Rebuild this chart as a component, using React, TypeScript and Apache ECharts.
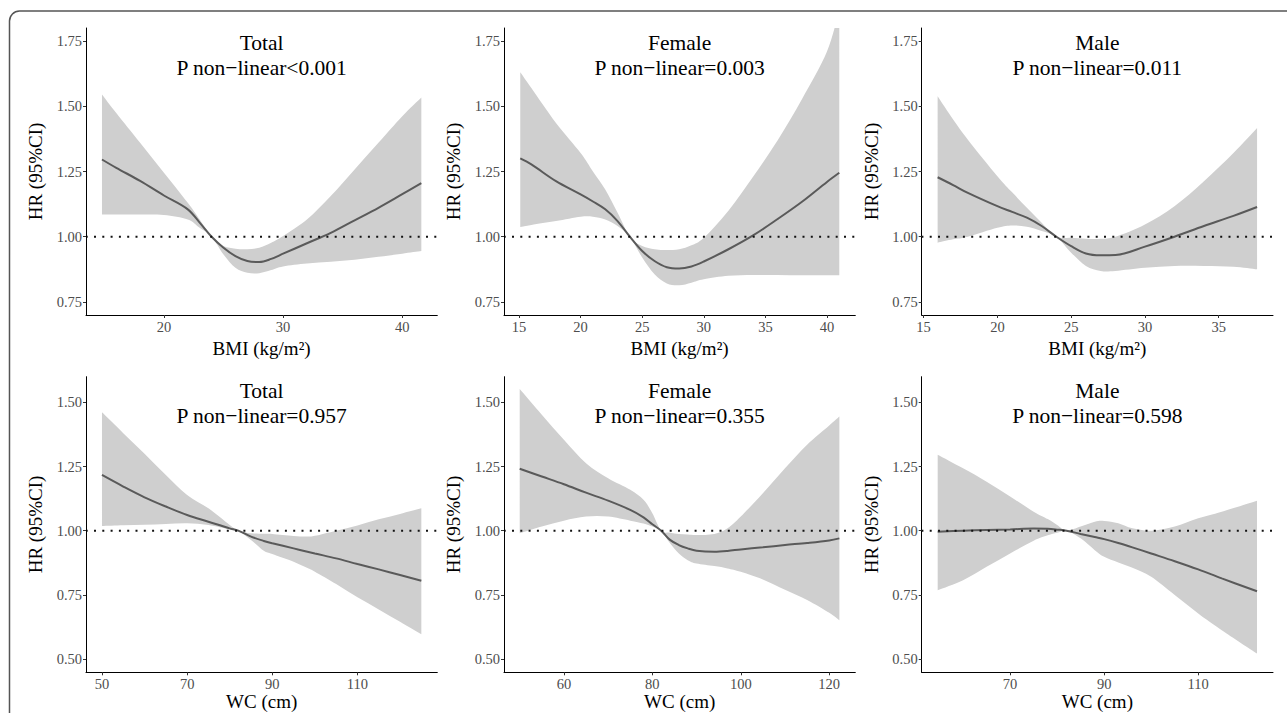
import React, { useEffect, useRef } from "react";
import * as echarts from "echarts";

const FONT = "Liberation Serif, Times New Roman, serif";

// ---- BMI, Total ----
const bmiTotalX = [14.8, 16, 18, 20, 22, 23, 24, 25, 26, 27, 28, 29, 30, 32, 34, 36, 38, 40, 41.6];
const bmiTotalHR = [1.296, 1.264, 1.214, 1.158, 1.105, 1.054, 1.0, 0.958, 0.926, 0.907, 0.903, 0.915, 0.935, 0.975, 1.015, 1.063, 1.111, 1.163, 1.205];
const bmiTotalLower = [1.085, 1.085, 1.085, 1.083, 1.066, 1.034, 1.0, 0.932, 0.881, 0.862, 0.86, 0.872, 0.886, 0.897, 0.904, 0.912, 0.923, 0.935, 0.945];
const bmiTotalUpper = [1.545, 1.474, 1.36, 1.245, 1.13, 1.066, 1.0, 0.964, 0.954, 0.952, 0.958, 0.977, 1.003, 1.066, 1.156, 1.258, 1.36, 1.462, 1.534];

// ---- BMI, Female ----
const bmiFemaleX = [15.1, 16, 18, 20, 21, 22, 23, 24, 25, 26, 27, 28, 29, 30, 32, 34, 36, 38, 40, 41];
const bmiFemaleHR = [1.3, 1.277, 1.213, 1.162, 1.135, 1.105, 1.06, 1.0, 0.945, 0.907, 0.883, 0.878, 0.886, 0.905, 0.952, 1.005, 1.068, 1.135, 1.21, 1.245];
const bmiFemaleLower = [1.037, 1.045, 1.06, 1.077, 1.077, 1.066, 1.041, 1.0, 0.92, 0.856, 0.821, 0.814, 0.824, 0.837, 0.85, 0.853, 0.853, 0.852, 0.852, 0.852];
const bmiFemaleUpper = [1.63, 1.57, 1.436, 1.321, 1.25, 1.181, 1.092, 1.0, 0.964, 0.952, 0.949, 0.952, 0.967, 0.996, 1.1, 1.23, 1.37, 1.53, 1.71, 1.87];

// ---- BMI, Male ----
const bmiMaleX = [15.95, 17, 18, 20, 21, 22, 23, 24, 25, 26, 27, 28, 30, 32, 34, 36, 37.6];
const bmiMaleHR = [1.228, 1.198, 1.168, 1.117, 1.095, 1.073, 1.041, 1.0, 0.964, 0.936, 0.929, 0.93, 0.962, 1.0, 1.041, 1.08, 1.114];
const bmiMaleLower = [0.977, 0.99, 1.0, 1.034, 1.043, 1.038, 1.022, 1.0, 0.939, 0.888, 0.869, 0.869, 0.881, 0.888, 0.888, 0.885, 0.875];
const bmiMaleUpper = [1.538, 1.449, 1.372, 1.232, 1.17, 1.111, 1.054, 1.0, 0.996, 0.992, 0.992, 1.0, 1.047, 1.117, 1.213, 1.321, 1.417];

// ---- WC, Total ----
const wcTotalX = [50, 55, 60, 65, 70, 75, 80, 82, 85, 88, 90, 95, 98, 100, 105, 110, 115, 120, 125];
const wcTotalHR = [1.217, 1.172, 1.13, 1.094, 1.061, 1.035, 1.009, 1.0, 0.977, 0.96, 0.951, 0.931, 0.919, 0.911, 0.892, 0.87, 0.849, 0.827, 0.805];
const wcTotalLower = [1.018, 1.021, 1.023, 1.026, 1.029, 1.022, 1.005, 1.0, 0.964, 0.922, 0.909, 0.879, 0.856, 0.84, 0.792, 0.74, 0.693, 0.645, 0.596];
const wcTotalUpper = [1.461, 1.38, 1.3, 1.217, 1.139, 1.087, 1.022, 1.0, 0.99, 0.988, 0.987, 0.979, 0.977, 0.98, 1.0, 1.02, 1.044, 1.065, 1.087];

// ---- WC, Female ----
const wcFemaleX = [50, 55, 60, 65, 70, 75, 78, 80, 82, 84, 86, 88, 90, 94, 97, 100, 105, 110, 115, 120, 122.3];
const wcFemaleHR = [1.241, 1.211, 1.181, 1.148, 1.117, 1.081, 1.052, 1.025, 1.0, 0.964, 0.944, 0.931, 0.922, 0.918, 0.921, 0.927, 0.935, 0.944, 0.952, 0.962, 0.97];
const wcFemaleLower = [0.99, 1.016, 1.039, 1.055, 1.055, 1.039, 1.028, 1.016, 1.0, 0.951, 0.911, 0.885, 0.872, 0.862, 0.853, 0.84, 0.81, 0.77, 0.73, 0.68, 0.651];
const wcFemaleUpper = [1.552, 1.452, 1.354, 1.263, 1.204, 1.159, 1.12, 1.068, 1.0, 0.992, 0.987, 0.985, 0.983, 0.987, 1.009, 1.055, 1.146, 1.243, 1.335, 1.41, 1.445];

// ---- WC, Male ----
const wcMaleX = [54.6, 60, 65, 70, 75, 78, 80, 82, 85, 88, 90, 93, 96, 100, 105, 110, 115, 122.5];
const wcMaleHR = [0.996, 1.0, 1.003, 1.005, 1.008, 1.007, 1.004, 1.0, 0.987, 0.975, 0.967, 0.952, 0.935, 0.911, 0.881, 0.849, 0.814, 0.764];
const wcMaleLower = [0.768, 0.807, 0.859, 0.911, 0.961, 0.982, 0.992, 1.0, 0.97, 0.924, 0.898, 0.876, 0.855, 0.82, 0.749, 0.677, 0.612, 0.521];
const wcMaleUpper = [1.296, 1.243, 1.191, 1.133, 1.074, 1.045, 1.022, 1.0, 1.016, 1.035, 1.038, 1.029, 1.009, 1.0, 1.016, 1.048, 1.074, 1.117];

// ---- titles / axes ----
const groupTitles = ["Total", "Female", "Male", "Total", "Female", "Male"];
const pTexts = [
  "P non\u2212linear<0.001",
  "P non\u2212linear=0.003",
  "P non\u2212linear=0.011",
  "P non\u2212linear=0.957",
  "P non\u2212linear=0.355",
  "P non\u2212linear=0.598",
];
const xNames = ["BMI (kg/m\u00B2)", "BMI (kg/m\u00B2)", "BMI (kg/m\u00B2)", "WC (cm)", "WC (cm)", "WC (cm)"];
const yName = "HR (95%CI)";
const refValue = 1;

const xTicks = [
  [20, 30, 40],
  [15, 20, 25, 30, 35, 40],
  [15, 20, 25, 30, 35],
  [50, 70, 90, 110],
  [60, 80, 100, 120],
  [70, 90, 110],
];
const xRanges = [
  [13.46, 42.94],
  [13.78, 42.3],
  [14.87, 38.68],
  [46.25, 128.75],
  [46.45, 125.9],
  [51.2, 125.9],
];
const yTicksTop = [0.75, 1.0, 1.25, 1.5, 1.75];
const yTicksBottom = [0.5, 0.75, 1.0, 1.25, 1.5];
const yRangeTop = [0.7, 1.8];
const yRangeBottom = [0.448, 1.6];

const panelData = [
  { x: bmiTotalX, hr: bmiTotalHR, lo: bmiTotalLower, up: bmiTotalUpper },
  { x: bmiFemaleX, hr: bmiFemaleHR, lo: bmiFemaleLower, up: bmiFemaleUpper },
  { x: bmiMaleX, hr: bmiMaleHR, lo: bmiMaleLower, up: bmiMaleUpper },
  { x: wcTotalX, hr: wcTotalHR, lo: wcTotalLower, up: wcTotalUpper },
  { x: wcFemaleX, hr: wcFemaleHR, lo: wcFemaleLower, up: wcFemaleUpper },
  { x: wcMaleX, hr: wcMaleHR, lo: wcMaleLower, up: wcMaleUpper },
];

// layout (pixels)
const colLeft = [86, 504, 921.7];
const colWidth = 351.3;
const rowTop = [28, 376.7];
const rowHeight = [287, 295.6];
const titleY = [
  [42.7, 68.3],
  [391, 416],
];

// Catmull-Rom spline through pixel points -> SVG cubic segments
function splineSegments(pts: number[][]): string {
  let d = "";
  const n = pts.length;
  for (let i = 0; i < n - 1; i++) {
    const p0 = pts[i - 1] || pts[i];
    const p1 = pts[i];
    const p2 = pts[i + 1];
    const p3 = pts[i + 2] || pts[i + 1];
    const c1x = p1[0] + (p2[0] - p0[0]) / 6;
    const c1y = p1[1] + (p2[1] - p0[1]) / 6;
    const c2x = p2[0] - (p3[0] - p1[0]) / 6;
    const c2y = p2[1] - (p3[1] - p1[1]) / 6;
    d += ` C${c1x.toFixed(2)},${c1y.toFixed(2)} ${c2x.toFixed(2)},${c2y.toFixed(2)} ${p2[0].toFixed(2)},${p2[1].toFixed(2)}`;
  }
  return d;
}

function buildOption() {
  const grid: any[] = [];
  const xAxis: any[] = [];
  const yAxis: any[] = [];
  const series: any[] = [];
  const graphic: any[] = [];

  graphic.push({
    type: "rect",
    silent: true,
    shape: { x: 9.5, y: 11, width: 1320, height: 760, r: 10 },
    style: { fill: "none", stroke: "#555", lineWidth: 1.5 },
    z: 0,
  });

  panelData.forEach((p, i) => {
    const row = i < 3 ? 0 : 1;
    const col = i % 3;
    const left = colLeft[col];
    const top = rowTop[row];
    grid.push({ left, top, width: colWidth, height: rowHeight[row], containLabel: false });

    const yTicks = row === 0 ? yTicksTop : yTicksBottom;
    const yRange = row === 0 ? yRangeTop : yRangeBottom;

    xAxis.push({
      type: "value",
      gridIndex: i,
      min: xRanges[i][0],
      max: xRanges[i][1],
      z: 10,
      axisLine: { show: true, onZero: false, lineStyle: { color: "#000", width: 1 } },
      axisTick: { show: true, length: 3, lineStyle: { color: "#333", width: 1 }, customValues: xTicks[i] },
      axisLabel: {
        customValues: xTicks[i],
        color: "#4d4d4d",
        fontSize: 14.5,
        fontFamily: FONT,
        margin: 4,
      },
      splitLine: { show: false },
      name: xNames[i],
      nameLocation: "middle",
      nameGap: row === 0 ? 24 : 20,
      nameTextStyle: { fontSize: 19, color: "#000", fontFamily: FONT, verticalAlign: "top" },
    });

    yAxis.push({
      type: "value",
      gridIndex: i,
      min: yRange[0],
      max: yRange[1],
      z: 10,
      axisLine: { show: true, onZero: false, lineStyle: { color: "#000", width: 1 } },
      axisTick: { show: true, length: 3, lineStyle: { color: "#333", width: 1 }, customValues: yTicks },
      axisLabel: {
        customValues: yTicks,
        color: "#4d4d4d",
        fontSize: 14.5,
        fontFamily: FONT,
        margin: 4,
        formatter: (v: number) => v.toFixed(2),
      },
      splitLine: { show: false },
      name: yName,
      nameLocation: "middle",
      nameGap: 41,
      nameTextStyle: { fontSize: 19, color: "#000", fontFamily: FONT },
    });

    // confidence band: polygon between upper and lower bounds, through the axes' scales
    series.push({
      type: "custom",
      name: `band${i}`,
      xAxisIndex: i,
      yAxisIndex: i,
      coordinateSystem: "cartesian2d",
      clip: true,
      silent: true,
      z: 1,
      data: [[p.x[0], refValue]],
      renderItem: (_params: any, api: any) => {
        const upPts = p.x.map((v, j) => api.coord([v, p.up[j]]));
        const loPts = p.x.map((v, j) => api.coord([v, p.lo[j]])).reverse();
        const d =
          `M${upPts[0][0]},${upPts[0][1]}` +
          splineSegments(upPts) +
          ` L${loPts[0][0]},${loPts[0][1]}` +
          splineSegments(loPts) +
          " Z";
        return {
          type: "path",
          shape: { pathData: d },
          style: { fill: "#cfcfcf", stroke: "none" },
          silent: true,
        };
      },
    });

    series.push({
      type: "line",
      name: `hr${i}`,
      xAxisIndex: i,
      yAxisIndex: i,
      showSymbol: false,
      symbol: "none",
      silent: true,
      clip: true,
      smooth: 0.35,
      z: 3,
      data: p.x.map((v, j) => [v, p.hr[j]]),
      lineStyle: { width: 2, color: "#5a5a5a" },
    });
    series.push({
      type: "line",
      name: `ref${i}`,
      xAxisIndex: i,
      yAxisIndex: i,
      showSymbol: false,
      symbol: "none",
      silent: true,
      z: 4,
      data: [
        [xRanges[i][0], refValue],
        [xRanges[i][1], refValue],
      ],
      lineStyle: { width: 2, color: "#111", type: [2, 6.3], dashOffset: -8 },
    });

    const cx = left + colWidth / 2;
    [groupTitles[i], pTexts[i]].forEach((t, k) => {
      graphic.push({
        type: "text",
        x: cx,
        y: titleY[row][k],
        silent: true,
        style: {
          text: t,
          fill: "#000",
          fontSize: 21.5,
          fontFamily: FONT,
          align: "center",
          verticalAlign: "middle",
          textAlign: "center",
          textVerticalAlign: "middle",
        },
      });
    });
  });

  return {
    animation: false,
    backgroundColor: "#ffffff",
    grid,
    xAxis,
    yAxis,
    series,
    graphic,
  };
}

export default function App() {
  const ref = useRef<HTMLDivElement>(null);
  useEffect(() => {
    if (!ref.current) return;
    const chart = echarts.init(ref.current, undefined, { renderer: "svg" });
    chart.setOption(buildOption() as any);
    return () => chart.dispose();
  }, []);
  return (
    <div
      ref={ref}
      style={{ position: "fixed", left: 0, top: 0, width: 1287, height: 713, background: "#fff" }}
    />
  );
}
